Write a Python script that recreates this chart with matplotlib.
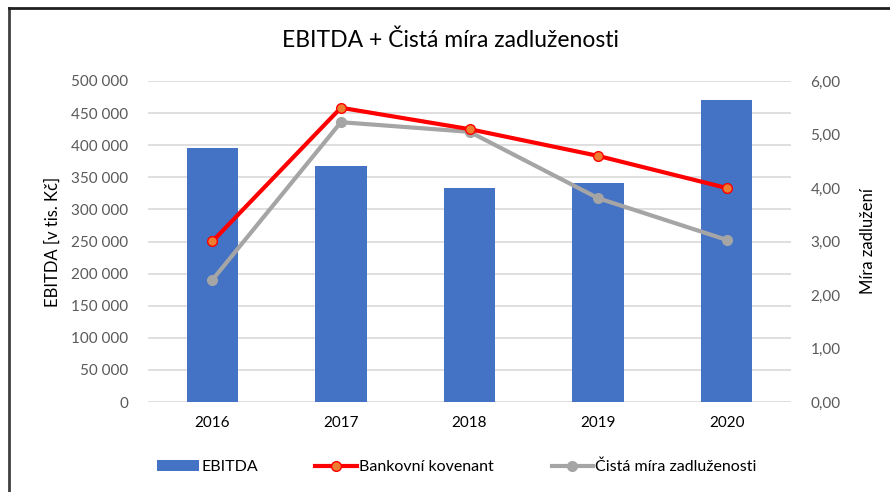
import matplotlib.pyplot as plt
from matplotlib.lines import Line2D
from matplotlib.ticker import FuncFormatter

years = ["2016", "2017", "2018", "2019", "2020"]
ebitda = [395000, 367000, 334000, 341000, 470000]
kovenant = [3.00, 5.50, 5.10, 4.60, 4.00]
zadluzenost = [2.28, 5.23, 5.05, 3.81, 3.03]

plt.rcParams['font.family'] = ['Liberation Sans Narrow', 'Lato', 'DejaVu Sans']

fig = plt.figure(figsize=(8.9, 4.92), dpi=100)
ax = fig.add_axes([148/890, 1-402/492, (791-148)/890, (402-81)/492])
ax2 = ax.twinx()

x = range(len(years))
b = ax.bar(x, ebitda, width=0.4, color="#4472C4", label="EBITDA", zorder=2)
l1, = ax2.plot(x, kovenant, color="#FF0000", lw=3, marker="o", ms=7,
               mfc="#ED7D31", mec="#FF0000", mew=1, label="Bankovní kovenant", zorder=4)
l2, = ax2.plot(x, zadluzenost, color="#A5A5A5", lw=3, marker="o", ms=7,
               mfc="#A5A5A5", mec="#A5A5A5", label="Čistá míra zadluženosti", zorder=3)

ax.set_xlim(-0.5, 4.5)
ax.set_ylim(0, 500000)
ax.set_yticks(range(0, 500001, 50000))
ax.yaxis.set_major_formatter(FuncFormatter(lambda v, p: f"{int(v):,}".replace(",", " ")))
ax2.set_ylim(0, 6)
ax2.set_yticks([0, 1, 2, 3, 4, 5, 6])
ax2.yaxis.set_major_formatter(FuncFormatter(lambda v, p: f"{v:.2f}".replace(".", ",")))

ax.grid(axis="y", color="#D9D9D9", lw=1.2, zorder=0)
ax.set_axisbelow(True)
for a in (ax, ax2):
    for s in a.spines.values():
        s.set_visible(False)
    a.tick_params(length=0)
ax.tick_params(axis="y", colors="#595959", labelsize=11, pad=14)
ax2.tick_params(axis="y", colors="#595959", labelsize=11, pad=14)
ax.tick_params(axis="x", colors="#000000", labelsize=11, pad=10)
ax.set_xticks(list(x))
ax.set_xticklabels(years)

ax.set_ylabel("EBITDA [v tis. Kč]", fontsize=12, labelpad=8)
ax2.set_ylabel("Míra zadlužení", fontsize=12, labelpad=14)

fig.text(450/890, 1-40/492, "EBITDA + Čistá míra zadluženosti", ha="center", va="center",
         fontsize=16.5, color="#000000")

fig.legend(handles=[b, l1, l2], loc="center", bbox_to_anchor=(457/890, 1-467/492),
           ncol=3, frameon=False, fontsize=11.5, handlelength=2.6, columnspacing=3.6,
           handletextpad=0.15)

fig.add_artist(Line2D([9/890, 9/890], [0, 1-8/492], color="#404040", lw=2))
fig.add_artist(Line2D([9/890, 1], [1-8/492, 1-8/492], color="#202020", lw=2))

fig.savefig("out.png", dpi=100)
